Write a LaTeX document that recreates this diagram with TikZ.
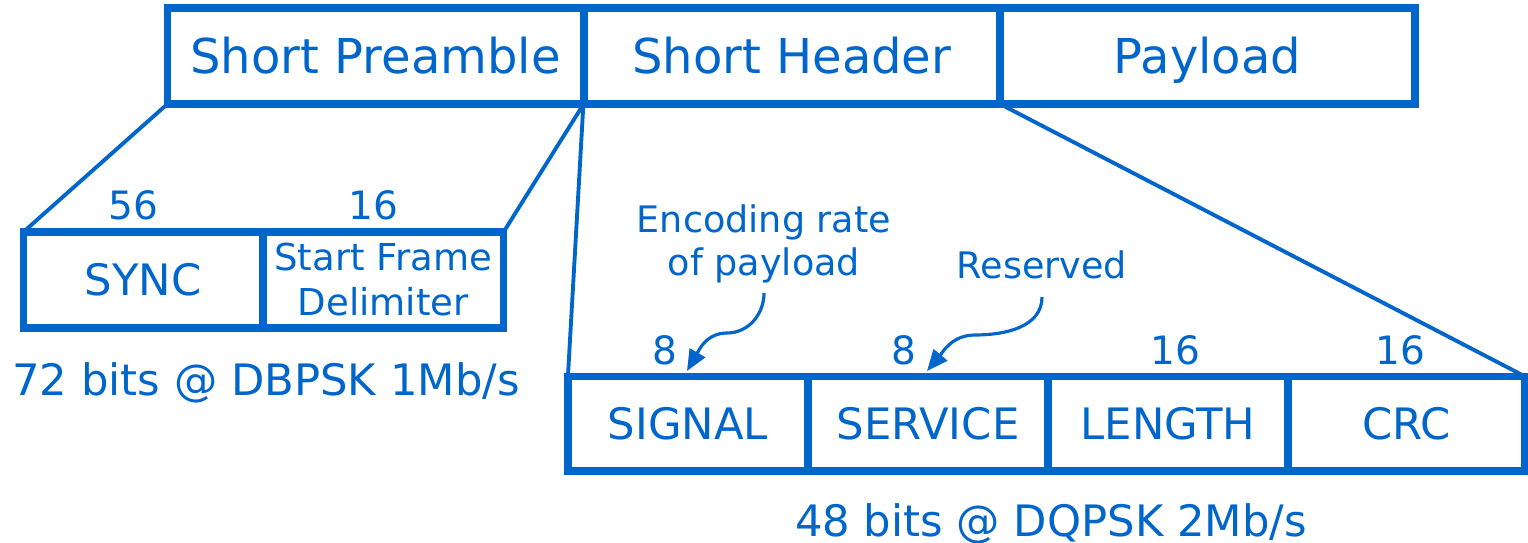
\documentclass[tikz,border=0pt]{standalone}
\usepackage{fontspec}
\setmainfont{DejaVu Sans}
\usetikzlibrary{arrows.meta}
\definecolor{frameblue}{RGB}{0,102,204}
\begin{document}
\begin{tikzpicture}[x=0.01cm,y=-0.01cm,
  box/.style={draw=frameblue,line width=2.2pt,inner sep=0pt,outer sep=0pt,text=frameblue},
  big/.style={font=\fontsize{13.66}{16}\selectfont,text height=9.96pt,text depth=-0.85pt},
  mid/.style={font=\fontsize{12.32}{15}\selectfont,text height=9pt,text depth=-0.3pt},
  small/.style={font=\fontsize{10.53}{12.8}\selectfont,align=center},
  bits/.style={font=\fontsize{11.1}{13}\selectfont,text=frameblue,anchor=base,inner sep=0pt},
  note/.style={font=\fontsize{10.39}{12.3}\selectfont,text=frameblue,align=center,inner sep=0pt},
  rate/.style={font=\fontsize{12.32}{15}\selectfont,text=frameblue,anchor=base,inner sep=0pt},
  link/.style={draw=frameblue,line width=1.1pt},
  callout/.style={draw=frameblue,line width=0.9pt,-{Triangle[length=6pt,width=5pt]}}]
\useasboundingbox (0,0) rectangle (1528,543);

% frame: preamble, header, payload
\node[box,big,minimum width=4.16cm,minimum height=0.96cm] (pre) at (375.5,56) {Short Preamble};
\node[box,big,minimum width=4.165cm,minimum height=0.96cm] (hdr) at (791.75,56) {Short Header};
\node[box,big,minimum width=4.15cm,minimum height=0.96cm] (pay) at (1207.5,56) {Payload};

% preamble fields
\node[box,mid,minimum width=2.395cm,minimum height=0.96cm] (sync) at (143.25,280) {SYNC};
\node[box,small,minimum width=2.405cm,minimum height=0.96cm] (sfd) at (383.25,280) {Start Frame\\Delimiter};

% header fields
\node[box,mid,minimum width=2.4cm,minimum height=0.945cm] (sig) at (688,423.75) {SIGNAL};
\node[box,mid,minimum width=2.4cm,minimum height=0.945cm] (srv) at (928,423.75) {SERVICE};
\node[box,mid,minimum width=2.4cm,minimum height=0.945cm] (len) at (1168,423.75) {LENGTH};
\node[box,mid,minimum width=2.37cm,minimum height=0.945cm] (crc) at (1406.5,423.75) {CRC};

% expansion lines
\draw[link] (pre.south west) -- (sync.north west);
\draw[link] (pre.south east) -- (sfd.north east);
\draw[link] (hdr.south west) -- (sig.north west);
\draw[link] (hdr.south east) -- (crc.north east);

% field sizes in bits
\node[bits] (n56) at (133.5,220) {56};
\node[bits] (n16a) at (373.6,220) {16};
\node[bits] (n8a) at (665,364) {8};
\node[bits] (n8b) at (904,364) {8};
\node[bits] (n16b) at (1175,364) {16};
\node[bits] (n16c) at (1400,364) {16};

% rates
\node[rate] (r1) at (266,395) {72 bits @ DBPSK 1Mb/s};
\node[rate] (r2) at (1051,536) {48 bits @ DQPSK 2Mb/s};

% callouts
\node[note] (enc) at (764,243.8) {Encoding rate\\of payload};
\node[note,anchor=base] (res) at (1042,278) {Reserved};
\coordinate (encStart) at (764,293);
\coordinate (encmid) at (727,333);
\coordinate (encTip) at (687,371);
\coordinate (resStart) at (1042,297);
\coordinate (resmid) at (975,335);
\coordinate (resTip) at (927,371);
\draw[callout] (encStart) to[out=-90,in=0] (encmid) to[out=180,in=60] (encTip);
\draw[callout] (resStart) to[out=-90,in=0] (resmid) to[out=180,in=50] (resTip);
\end{tikzpicture}
\end{document}
